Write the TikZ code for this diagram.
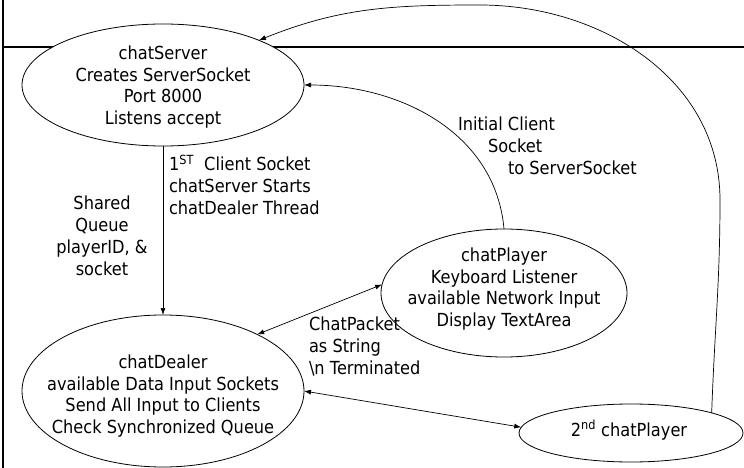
\documentclass[tikz,border=0pt]{standalone}
\usepackage{fontspec}
\setmainfont{DejaVu Sans}[FakeStretch=0.9]
\usetikzlibrary{arrows.meta,shapes.geometric}
\begin{document}
\begin{tikzpicture}[x=1pt,y=1pt,
  txt/.style={font=\fontsize{18}{21.7}\selectfont, inner sep=0pt, outer sep=0pt},
  oval/.style={ellipse, draw, fill=white, line width=0.8pt, inner sep=0pt, outer sep=0pt},
  intext/.style={txt, align=center},
  lbl/.style={txt, align=left},
  arr/.style={line width=0.7pt, -{Latex[length=7pt,width=5pt]}},
  arrboth/.style={line width=0.7pt, {Latex[length=7pt,width=5pt]}-{Latex[length=7pt,width=5pt]}},
  frame/.style={line width=2.8pt}]
\useasboundingbox (0,0) rectangle (744,-468);
% frame lines
\draw[frame] (3,0) -- (3,-468);
\draw[frame] (3,-47) -- (744,-47);
% states
\node[oval, minimum width=282pt, minimum height=122pt] (cs) at (163,-85) {};
\node[intext] (cst) at (163,-87)
  {chatServer\\Creates ServerSocket\\Port 8000\\Listens accept};
\node[oval, minimum width=282pt, minimum height=152pt] (cd) at (163,-391) {};
\node[intext] (cdt) at (163,-396)
  {chatDealer\\available Data Input Sockets\\Send All Input to Clients\\Check Synchronized Queue};
\node[oval, minimum width=246pt, minimum height=128pt] (cp) at (504,-293) {};
\node[intext] (cpt) at (504,-289)
  {chatPlayer\\Keyboard Listener\\available Network Input\\Display TextArea};
\node[oval, minimum width=224pt, minimum height=58pt] (cp2) at (631,-433) {};
\node[intext] (cp2t) at (629,-430) {2\textsuperscript{nd} chatPlayer};
% labels (base = baseline of the last line)
\node[lbl, anchor=base west] (l1) at (169,-214)
  {1\textsuperscript{ST}\ \ Client Socket\\chatServer Starts\\chatDealer Thread};
\node[txt, align=center, anchor=base] (l2) at (102,-275)
  {Shared\\Queue\\playerID, \&\\socket};
\node[lbl, anchor=base west] (l3) at (458,-174)
  {Initial Client\\\hspace*{30pt}Socket\\\hspace*{50pt}to ServerSocket};
\node[lbl, anchor=base west] (l4) at (309,-374)
  {ChatPacket\\as String\\\textbackslash n Terminated};
% connectors
\coordinate (k1) at (720,-200);
\coordinate (k2) at (480,-5);
\draw[arr] (cs.south) -- (cd.north);
\draw[arr] (cp.north) to[out=95,in=0] (cs.east);
\draw[arrboth] (cd.31) -- (cp.176);
\draw[arrboth] (cd.east) -- (cp2.177);
\draw[arr] (cp2.14) to[out=88,in=-90] (k1) to[out=90,in=0] (k2) to[out=180,in=22] (cs.25);
\end{tikzpicture}
\end{document}
